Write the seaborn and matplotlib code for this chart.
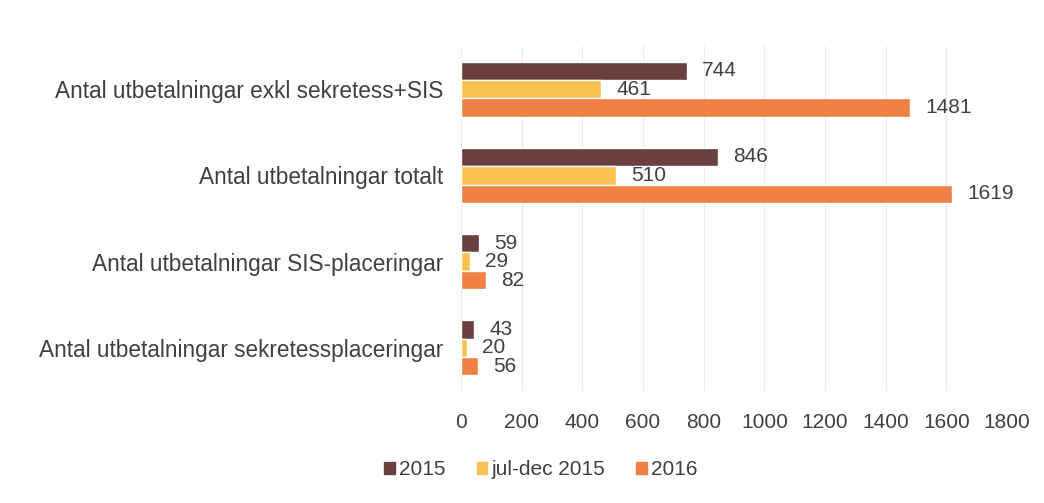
import matplotlib
matplotlib.use("Agg")
import matplotlib.pyplot as plt
import seaborn as sns
import pandas as pd

kategorier = ["Antal utbetalningar exkl sekretess+SIS",
              "Antal utbetalningar totalt",
              "Antal utbetalningar SIS-placeringar",
              "Antal utbetalningar sekretessplaceringar"]
serier = ["2015", "jul-dec 2015", "2016"]
v_2015 = [744, 846, 59, 43]
v_juldec = [461, 510, 29, 20]
v_2016 = [1481, 1619, 82, 56]
x_ticks = [0, 200, 400, 600, 800, 1000, 1200, 1400, 1600, 1800]
farger = ["#6B3F3F", "#F9C24F", "#EE8143"]

df = pd.DataFrame({
    "kategori": kategorier * 3,
    "serie": [s for s in serier for _ in kategorier],
    "antal": v_2015 + v_juldec + v_2016,
})

sns.set_style("white")
plt.rcParams['font.family'] = ['Liberation Sans', 'DejaVu Sans']

fig, ax = plt.subplots(figsize=(10.44, 5.03), dpi=100)
fig.subplots_adjust(left=0.4416, right=0.9646, top=0.9085, bottom=0.2227)

sns.barplot(data=df, y="kategori", x="antal", hue="serie", order=kategorier,
            hue_order=serier, palette=farger, orient="h", width=0.64,
            saturation=1, ax=ax, legend=False)

for cont in ax.containers:
    ax.bar_label(cont, padding=11, fontsize=15, color="#404040")

ax.set_xlim(0, 1800)
ax.set_ylim(3.5, -0.5)
ax.set_xticks(x_ticks)
ax.set_xticklabels([str(t) for t in x_ticks])
ax.xaxis.grid(True, color="#EBEBEB", linewidth=0.8)
ax.set_axisbelow(True)
ax.tick_params(axis="x", length=0, pad=16, labelsize=15, labelcolor="#404040")
ax.tick_params(axis="y", length=0, pad=13, labelsize=16.3, labelcolor="#404040")
ax.set_xlabel("")
ax.set_ylabel("")
for s in ax.spines.values():
    s.set_visible(False)

handles = [plt.Rectangle((0, 0), 1, 1, color=c) for c in farger]
fig.legend(handles, serier, loc="center", bbox_to_anchor=(0.518, 0.066), ncol=3,
           frameon=False, fontsize=15, handlelength=0.5, handleheight=0.5,
           handletextpad=0.2, columnspacing=1.5, labelcolor="#404040")

fig.savefig("out.png", dpi=100)
